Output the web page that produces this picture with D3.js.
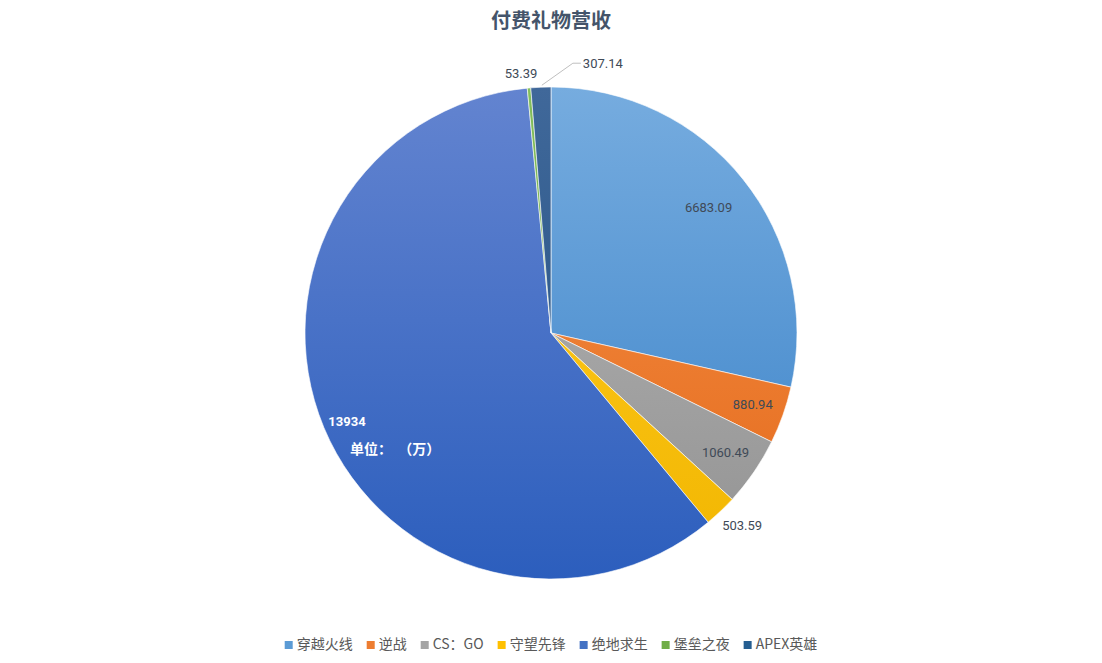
<!DOCTYPE html>
<html>
<head>
<meta charset="utf-8">
<script src="https://cdn.jsdelivr.net/npm/d3@7"></script>
<style>
  body { margin: 0; background: #fff; }
  svg { display: block; }
</style>
</head>
<body>
<svg id="chart"></svg>
<script>
// chart data
let games = ["穿越火线", "逆战", "CS：GO", "守望先锋", "绝地求生", "堡垒之夜", "APEX英雄"];
let revenue = [6683.09, 880.94, 1060.49, 503.59, 13934, 53.39, 307.14];
let labels = ["6683.09", "880.94", "1060.49", "503.59", "13934", "53.39", "307.14"];
let lightColors = ["#76acdf", "#f7924a", "#b8b8b8", "#ffcd26", "#6384d0", "#84bf5c", "#40689a"];
let darkColors = ["#3a82c8", "#e3691a", "#929292", "#f2b600", "#2c5ebd", "#5f9b35", "#1f4f80"];
let legendColors = ["#5b9bd5", "#ed7d31", "#a5a5a5", "#ffc000", "#4472c4", "#70ad47", "#255e91"];

let width = 1102, height = 663;
let cx = 551, cy = 333, radius = 246;

let svg = d3.select("#chart").attr("width", width).attr("height", height);

// title
svg.append("text")
    .attr("x", width / 2)
    .attr("y", 28)
    .attr("text-anchor", "middle")
    .attr("font-family", "'Noto Sans CJK SC', sans-serif")
    .attr("font-weight", "bold")
    .attr("font-size", 20)
    .attr("fill", "#44546a")
    .text("付费礼物营收");

// gradients in the pie group's own coordinates (centre at 0,0)
let defs = svg.append("defs");
games.forEach(function (g, i) {
    let grad = defs.append("linearGradient")
        .attr("id", "grad" + i)
        .attr("gradientUnits", "userSpaceOnUse")
        .attr("x1", 0).attr("y1", -radius)
        .attr("x2", 0).attr("y2", radius);
    grad.append("stop").attr("offset", "0%").attr("stop-color", lightColors[i]);
    grad.append("stop").attr("offset", "100%").attr("stop-color", darkColors[i]);
});

let pie = d3.pie().sort(null).value(d => d);
let arcs = pie(revenue);
let arc = d3.arc().innerRadius(0).outerRadius(radius);

let chartG = svg.append("g").attr("transform", "translate(" + cx + "," + cy + ")");

chartG.selectAll("path").data(arcs)
    .enter().append("path")
    .attr("d", arc)
    .attr("fill", (d, i) => "url(#grad" + i + ")")
    .attr("stroke", "#fff")
    .attr("stroke-width", 0.6);

// data labels: radius fraction per slice
let labelRadius = [0.82, 0.87, 0.86, 1.08, 0.88, 1.06, 1.12];

let labelG = svg.append("g").attr("transform", "translate(" + cx + "," + cy + ")");
arcs.forEach(function (d, i) {
    let mid = (d.startAngle + d.endAngle) / 2;
    let r = radius * labelRadius[i];
    let x = Math.sin(mid) * r;
    let y = -Math.cos(mid) * r;
    let anchor = "middle";
    if (i === 6) {
        // leader line for APEX
        let ex = Math.sin(mid) * radius, ey = -Math.cos(mid) * radius;
        labelG.append("polyline")
            .attr("points", [[ex + 1, ey - 2], [ex + 32, ey - 24], [ex + 40, ey - 24]].map(p => p.join(",")).join(" "))
            .attr("fill", "none")
            .attr("stroke", "#bfbfbf")
            .attr("stroke-width", 1);
        x = ex + 42;
        y = ey - 24;
        anchor = "start";
    }
    if (i === 3) {
        x += 8;
    }
    if (i === 5) {
        x = Math.sin(mid) * radius - 8;
        y = -radius - 14;
    }
    if (i === 4) {
        x = -204; y = 88;
    }
    labelG.append("text")
        .attr("x", x)
        .attr("y", y)
        .attr("dy", "0.35em")
        .attr("text-anchor", anchor)
        .attr("font-family", "Roboto, sans-serif")
        .attr("font-size", 13)
        .attr("font-weight", i === 4 ? "bold" : "normal")
        .attr("fill", i === 4 ? "#fff" : "#404a57")
        .text(labels[i]);
});

// unit note
svg.append("text")
    .attr("x", 350)
    .attr("y", 454)
    .attr("font-family", "'Noto Sans CJK SC', sans-serif")
    .attr("font-weight", "bold")
    .attr("font-size", 14)
    .attr("fill", "#fff")
    .attr("xml:space", "preserve")
    .text("单位：  （万）");

// legend
let legend = svg.append("g");
let items = legend.selectAll("g").data(games).enter().append("g");
items.append("rect")
    .attr("width", 8).attr("height", 8)
    .attr("y", -7)
    .attr("fill", (d, i) => legendColors[i]);
items.append("text")
    .attr("x", 12)
    .attr("y", 0)
    .attr("dy", "0.1em")
    .attr("font-family", "'Noto Sans CJK SC', sans-serif")
    .attr("font-size", 14)
    .attr("fill", "#595959")
    .text(d => d);
let xPos = 0;
items.each(function () {
    let w = this.getBBox().width;
    d3.select(this).attr("transform", "translate(" + xPos + ",0)");
    xPos += w + 14;
});
let totalW = xPos - 14;
legend.attr("transform", "translate(" + ((width - totalW) / 2) + ",648)");
</script>
</body>
</html>
